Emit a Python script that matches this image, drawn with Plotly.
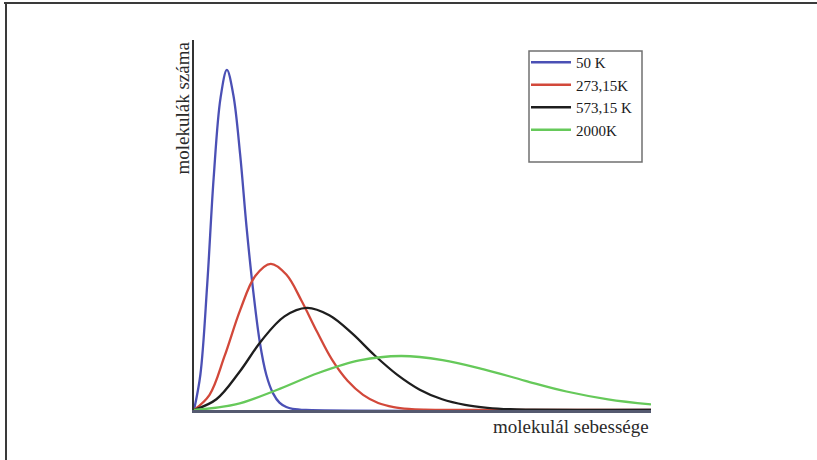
import plotly.graph_objects as go

# ---- data (arbitrary units) ----
series_names = ["50 K", "273,15K", "573,15 K", "2000K"]

x_50 = [0, 1.4, 2.9, 4.3, 5.8, 7.2, 8.6, 10.1, 11.5, 13.0, 14.4, 15.8, 17.3, 18.7, 20.2, 21.6, 24.5, 100]
y_50 = [0, 9.6, 34.1, 62.7, 84.3, 91.9, 85.2, 69.0, 49.4, 31.7, 18.3, 9.6, 4.5, 2.0, 0.8, 0.3, 0.0, 0]

x_273 = [0, 3.4, 6.7, 10.1, 13.4, 16.8, 20.2, 23.5, 26.9, 30.2, 33.6, 37.0, 40.3, 43.7, 47.0, 50.4, 57.1, 100]
y_273 = [0, 4.1, 14.6, 27.0, 36.2, 39.5, 36.6, 29.6, 21.2, 13.6, 7.9, 4.1, 1.9, 0.8, 0.3, 0.1, 0, 0]

x_573 = [0, 4.9, 9.9, 14.8, 19.8, 24.7, 29.6, 34.6, 39.5, 44.5, 49.4, 54.3, 59.3, 64.2, 69.2, 74.1, 84.0, 100]
y_573 = [0, 2.9, 10.2, 18.8, 25.3, 27.6, 25.6, 20.7, 14.8, 9.5, 5.5, 2.9, 1.4, 0.6, 0.2, 0.1, 0, 0]

x_2000 = [0, 9.1, 18.1, 27.2, 36.2, 45.3, 54.4, 63.4, 72.5, 81.5, 90.6, 100]
y_2000 = [0, 1.5, 5.4, 10.0, 13.4, 14.6, 13.5, 11.0, 7.9, 5.0, 2.9, 1.5]

x_title = "molekulál sebessége"
y_title = "molekulák száma"

colors = ["#4b50b5", "#d2483a", "#1e1e1e", "#66c95a"]

# ---- layout geometry (pixels) ----
W, H = 817, 460
L, R, T, B = 194, 651, 40, 410


def px(x):
    return (x - L) / (R - L)


def py(y):
    return (B - y) / (B - T)


FONT = "Liberation Serif, Times New Roman, serif"

fig = go.Figure()
for name, xs, ys, c in zip(series_names, [x_50, x_273, x_573, x_2000],
                           [y_50, y_273, y_573, y_2000], colors):
    fig.add_trace(go.Scatter(x=xs, y=ys, name=name, mode="lines",
                             line=dict(color=c, width=2.3, shape="spline", smoothing=1.0)))

shapes = [
    # outer frame (top and left edges)
    dict(type="line", xref="paper", yref="paper", x0=px(4), x1=px(817), y0=py(3), y1=py(3),
         line=dict(color="#3a3a3a", width=2)),
    dict(type="line", xref="paper", yref="paper", x0=px(6), x1=px(6), y0=py(2), y1=py(460),
         line=dict(color="#3a3a3a", width=2)),
    # legend box
    dict(type="rect", xref="paper", yref="paper", x0=px(529), x1=px(642), y0=py(51), y1=py(162),
         line=dict(color="#707070", width=1.5), fillcolor="rgba(0,0,0,0)"),
]

annotations = [
    dict(text=x_title, xref="paper", yref="paper", x=1.0, y=py(426), xanchor="right", yanchor="middle",
         showarrow=False, font=dict(family=FONT, size=19, color="#2a2a2a")),
    dict(text=y_title, xref="paper", yref="paper", x=px(182), y=1.0, xanchor="center", yanchor="top",
         textangle=-90, showarrow=False, font=dict(family=FONT, size=19, color="#2a2a2a")),
]

fig.update_layout(
    width=W, height=H,
    margin=dict(l=L, r=W - R, t=T, b=H - B),
    paper_bgcolor="white", plot_bgcolor="white",
    showlegend=True,
    legend=dict(x=px(526), y=py(46), xanchor="left", yanchor="top",
                bgcolor="rgba(0,0,0,0)", borderwidth=0, itemwidth=40,
                font=dict(family=FONT, size=15, color="#1a1a1a"),
                tracegroupgap=0),
    xaxis=dict(range=[0, 100], showgrid=False, zeroline=False, showticklabels=False, ticks="",
               showline=True, linecolor="#555a70", linewidth=3),
    yaxis=dict(range=[0, 100], showgrid=False, zeroline=False, showticklabels=False, ticks="",
               showline=True, linecolor="#333333", linewidth=2),
    shapes=shapes,
    annotations=annotations,
)

fig.write_html("out.html")
